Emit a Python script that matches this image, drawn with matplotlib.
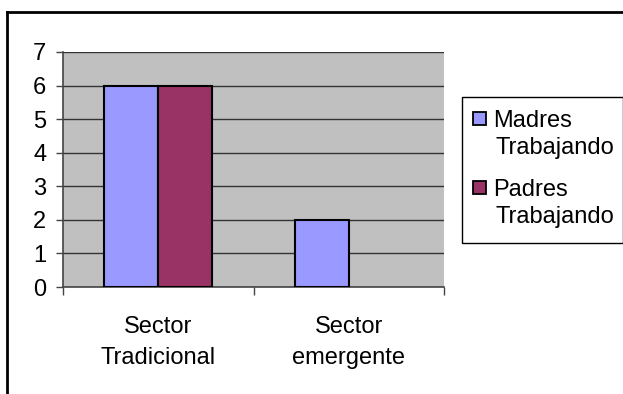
import matplotlib
matplotlib.use("Agg")
import matplotlib.pyplot as plt
from matplotlib.lines import Line2D
from matplotlib.patches import Rectangle
import numpy as np

categories = ["Sector\nTradicional", "Sector\nemergente"]
series_names = ["Madres\nTrabajando", "Padres\nTrabajando"]
madres = [6, 2]
padres = [6, 0]
y_ticks = [0, 1, 2, 3, 4, 5, 6, 7]

colors = ["#9999FF", "#993366"]

plt.rcParams["font.family"] = ["Liberation Sans", "DejaVu Sans"]
FS = 17

W, H = 623, 394
fig = plt.figure(figsize=(W / 100, H / 100), dpi=100)


def fx(px):
    return px / W


def fy(py):
    return 1 - py / H


ax = fig.add_axes([fx(63), fy(287), 381 / W, 235 / H])
ax.set_facecolor("#C0C0C0")

x = np.arange(len(categories))
w = 0.283
for vals, off, col in [(madres, -w / 2, colors[0]), (padres, w / 2, colors[1])]:
    edges = ["black" if v > 0 else "none" for v in vals]
    ax.bar(x + off, vals, w, color=col, edgecolor=edges, linewidth=1.5, zorder=3)

ax.set_xlim(-0.5, len(categories) - 0.5)
ax.set_ylim(0, 7)
ax.set_yticks(y_ticks)
ax.yaxis.grid(True, color="#333333", linewidth=1.0, zorder=1)
ax.set_axisbelow(True)

for s in ["top", "right"]:
    ax.spines[s].set_visible(False)
for s in ["left", "bottom"]:
    ax.spines[s].set_color("#444444")
    ax.spines[s].set_linewidth(1.2)

ax.tick_params(axis="y", length=5, width=1, color="#444444", labelsize=FS, pad=7)
ax.set_xticks(np.arange(len(categories) + 1) - 0.5)
ax.set_xticklabels([])
ax.tick_params(axis="x", which="major", length=6, width=1, color="#444444")
ax.set_xticks(x, minor=True)
ax.set_xticklabels(categories, minor=True, fontsize=FS, linespacing=1.5)
ax.tick_params(axis="x", which="minor", length=0, pad=21)

# legend box drawn on the figure
fig.add_artist(Rectangle((fx(462), fy(243)), (W - 462) / W, 146 / H,
                         transform=fig.transFigure, facecolor="white",
                         edgecolor="black", linewidth=1.0))
first_baselines = [127, 196]
for name, col, base in zip(series_names, colors, first_baselines):
    fig.add_artist(Rectangle((fx(473), fy(base - 2)), 13 / W, 13 / H,
                             transform=fig.transFigure, facecolor=col,
                             edgecolor="black", linewidth=1.3))
    lines = name.split("\n")
    fig.text(fx(493), fy(base), lines[0], fontsize=FS, va="baseline", ha="left")
    fig.text(fx(496), fy(base + 27), lines[1], fontsize=FS, va="baseline", ha="left")

# outer chart border (left and top edges)
fig.add_artist(Line2D([fx(7), fx(7)], [0, fy(12)], color="black",
                      linewidth=2, transform=fig.transFigure))
fig.add_artist(Line2D([fx(7), 1], [fy(12), fy(12)], color="black",
                      linewidth=2, transform=fig.transFigure))

fig.savefig("out.png", dpi=100)
